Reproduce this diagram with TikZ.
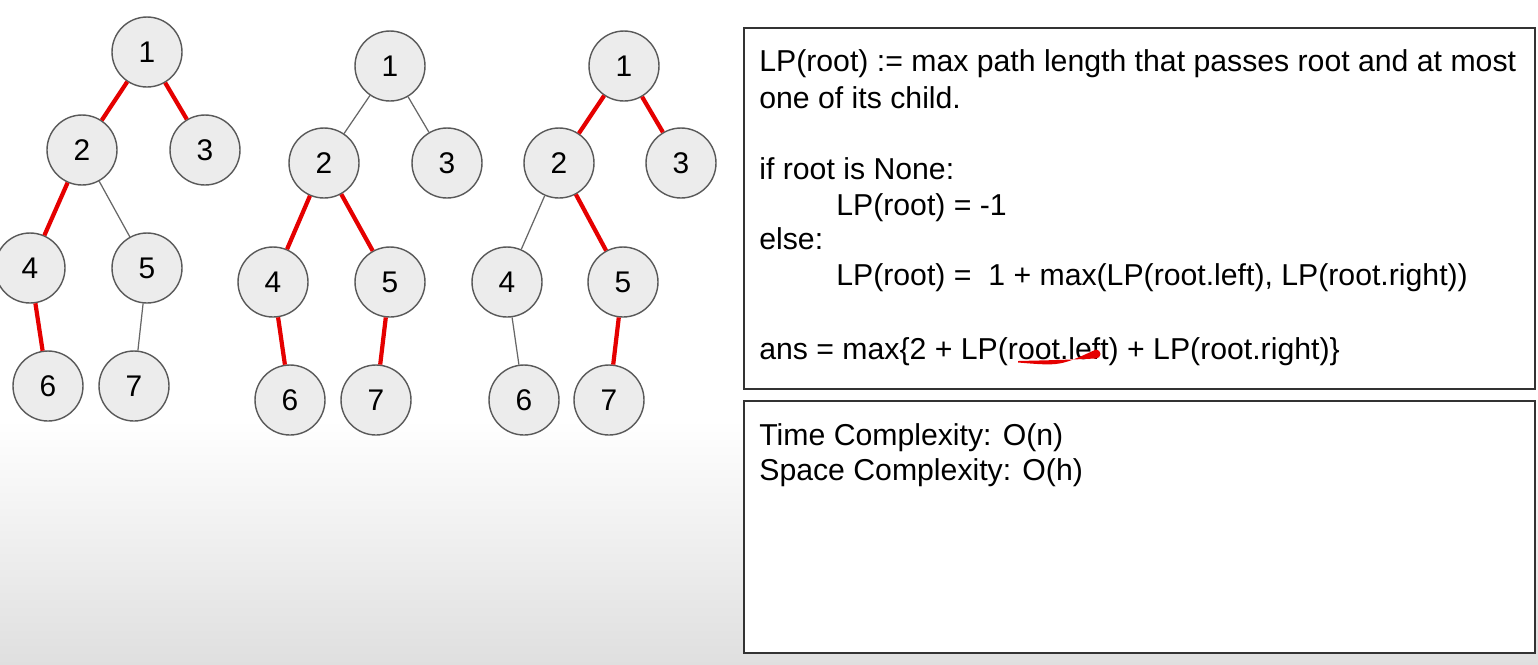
\documentclass[tikz,border=0pt]{standalone}
\usepackage{fontspec}
\setmainfont{Liberation Sans}
\begin{document}
\begin{tikzpicture}[x=0.02cm,y=-0.02cm,
  nd/.style={circle,draw=black!65,fill=gray!15!white,line width=0.8pt,minimum size=1.4cm,inner sep=0pt,font=\fontsize{17}{20}\selectfont},
  rd/.style={draw=red!90!black,line width=2.4pt},
  gr/.style={draw=black!60,line width=0.7pt},
  box/.style={draw=black!80,line width=0.8pt},
  tx/.style={anchor=base west,inner sep=0pt,font=\fontsize{17.2}{20}\selectfont}]
\useasboundingbox (0,0) rectangle (1538,664);
\shade[top color=white,bottom color=gray!25] (0,420) rectangle (1538,664);
\fill[white] (0,0) rectangle (1538,420);
\foreach \n/\x/\y in {1/147/52,2/82/150,3/205/150,4/30/268,5/147/268,6/48/386,7/134/386}
  \node[nd] (a\n) at (\x,\y) {\n};
\foreach \n/\x/\y in {1/390/66,2/324/163,3/447/163,4/273/282,5/390/282,6/290/400,7/376/400}
  \node[nd] (b\n) at (\x,\y) {\n};
\foreach \n/\x/\y in {1/624/66,2/559/163,3/681/163,4/507/282,5/623/282,6/524/400,7/609/400}
  \node[nd] (c\n) at (\x,\y) {\n};
\draw[rd] (a1)--(a2); \draw[rd] (a1)--(a3); \draw[rd] (a2)--(a4); \draw[rd] (a4)--(a6);
\draw[gr] (a2)--(a5); \draw[gr] (a5)--(a7);
\draw[gr] (b1)--(b2); \draw[gr] (b1)--(b3); \draw[rd] (b2)--(b4); \draw[rd] (b2)--(b5);
\draw[rd] (b4)--(b6); \draw[rd] (b5)--(b7);
\draw[rd] (c1)--(c2); \draw[rd] (c1)--(c3); \draw[gr] (c2)--(c4); \draw[rd] (c2)--(c5);
\draw[gr] (c4)--(c6); \draw[rd] (c5)--(c7);
\draw[box,fill=white] (744,28) rectangle (1535,389);
\draw[box,fill=white] (744,401) rectangle (1535,653);
\node[tx] (t1) at (759,71) {LP(root) := max path length that passes root and at most};
\node[tx] (t2) at (759,108) {one of its child.};
\node[tx] (t3) at (759,179) {if root is None:};
\node[tx] (t4) at (836,215) {LP(root) = -1};
\node[tx] (t5) at (759,249) {else:};
\node[tx] (t6) at (836,285) {LP(root) =\ \ 1 + max(LP(root.left), LP(root.right))};
\node[tx] (t7) at (759,359) {ans = max\{2 + LP(root.left) + LP(root.right)\}};
\node[tx] (t8) at (759,445) {Time Complexity: O(n)};
\node[tx] (t9) at (759,480) {Space Complexity: O(h)};
\fill[red!90!black] (1018,361) .. controls (1060,360) .. (1096,358.5) arc (90:-90:4.5) .. controls (1060,366) .. (1018,362.5) -- cycle;
\end{tikzpicture}
\end{document}
